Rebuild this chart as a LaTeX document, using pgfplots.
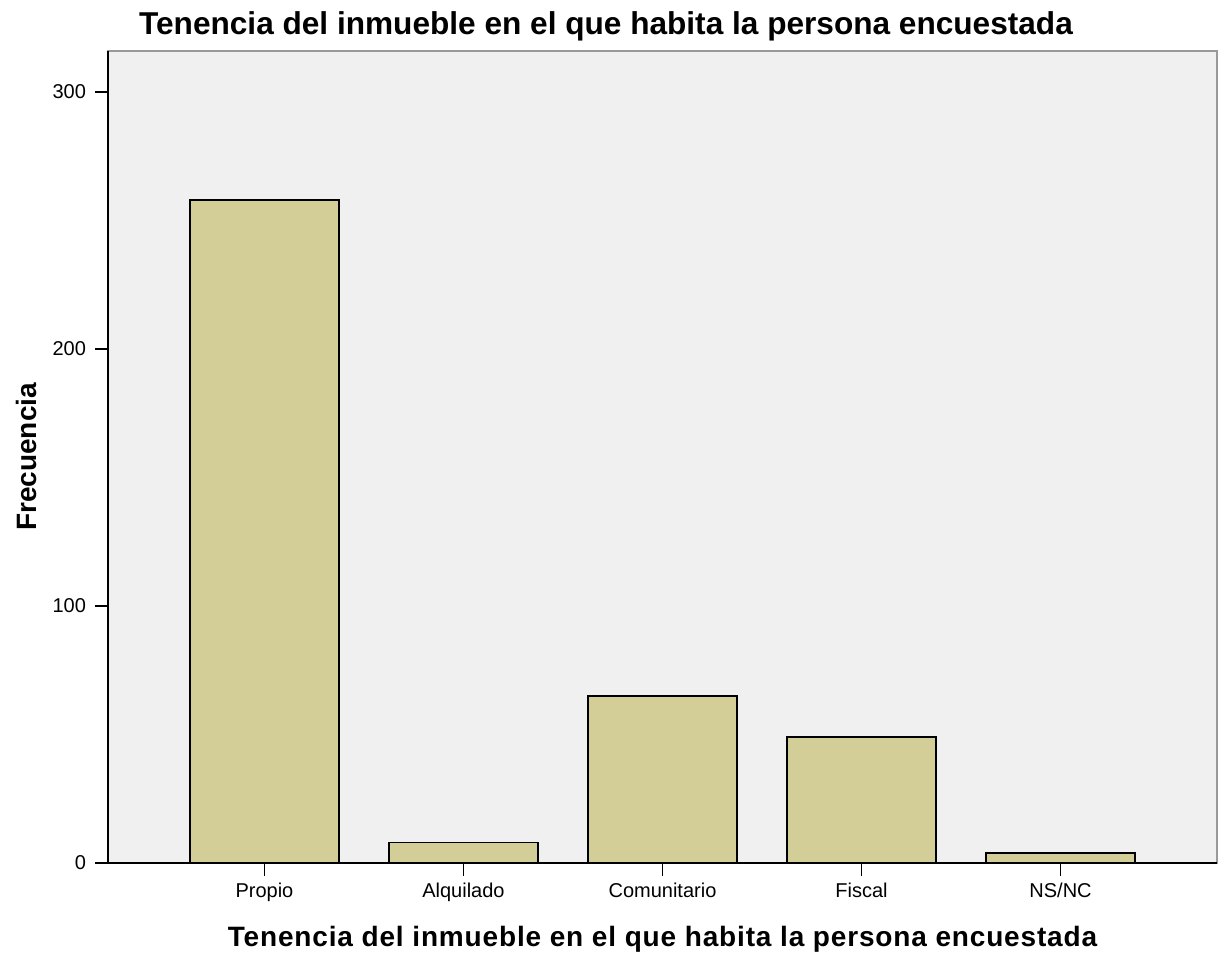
\documentclass[border=0pt]{standalone}
\usepackage{fontspec}
\setmainfont{Liberation Sans}
\usepackage{pgfplots}
\pgfplotsset{compat=1.18}
\definecolor{barfill}{HTML}{D3CE97}
\definecolor{bgfill}{HTML}{F0F0F0}
\begin{document}
\begin{tikzpicture}
\path[use as bounding box] (0,0) rectangle (609.5pt,478pt);
\begin{axis}[
  at={(54pt,46.5pt)}, anchor=south west,
  scale only axis, width=554.5pt, height=406pt,
  xmin=-0.786, xmax=4.786, ymin=0, ymax=316,
  axis x line*=bottom, axis y line*=left,
  axis line style={black, line width=0.8pt},
  axis background/.style={fill=bgfill, draw=gray!80, line width=0.8pt},
  xtick={0,1,2,3,4},
  xticklabels={Propio,Alquilado,Comunitario,Fiscal,NS/NC},
  ytick={0,100,200,300},
  tick align=outside, major tick length=6.5pt,
  tick style={black, line width=0.8pt},
  /pgf/number format/assume math mode=true,
  ticklabel style={font=\fontsize{10}{12}\selectfont},
  xticklabel style={yshift=0pt},
  yticklabel style={xshift=-1pt},
  xlabel={Tenencia del inmueble en el que habita la persona encuestada},
  ylabel={Frecuencia},
  xlabel style={font=\fontsize{14}{16}\bfseries\addfontfeature{LetterSpace=3}, at={(axis description cs:0.5,-0.1034)}, anchor=base},
  ylabel style={font=\fontsize{14}{16}\bfseries, at={(axis description cs:-0.0739,0.5)}, anchor=center},
  ybar, bar width=0.75,
  clip=false,
]
\addplot[fill=barfill, draw=black, line width=0.9pt] coordinates {
  (0,258) (1,8) (2,65) (3,49) (4,4)
};
\end{axis}
\node[font=\fontsize{15.8}{18}\bfseries, anchor=base] at (303pt,460.5pt) {Tenencia del inmueble en el que habita la persona encuestada};
\end{tikzpicture}
\end{document}
